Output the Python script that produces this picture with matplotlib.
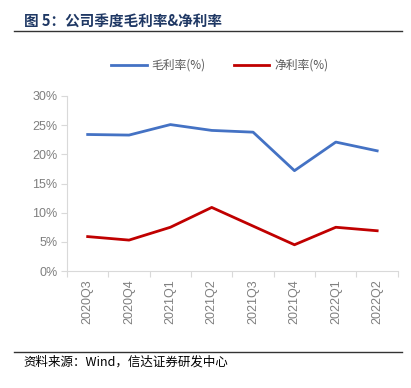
import matplotlib.pyplot as plt
from matplotlib.lines import Line2D

plt.rcParams['font.family'] = ['Noto Sans CJK SC', 'DejaVu Sans']

quarters = ["2020Q3", "2020Q4", "2021Q1", "2021Q2", "2021Q3", "2021Q4", "2022Q1", "2022Q2"]
gross_margin = [23.4, 23.3, 25.1, 24.1, 23.8, 17.2, 22.1, 20.6]
net_margin = [5.9, 5.3, 7.5, 10.9, 7.7, 4.5, 7.5, 6.9]

fig = plt.figure(figsize=(4.11, 3.88), dpi=100)
ax = fig.add_axes([0.163, 0.3015, 0.805, 0.4511])

x = list(range(len(quarters)))
ax.plot(x, gross_margin, color="#4472C4", lw=2.0, label="毛利率(%)")
ax.plot(x, net_margin, color="#C00000", lw=2.0, label="净利率(%)")

ax.set_xlim(-0.5, len(quarters) - 0.5)
ax.set_ylim(0, 30)
ax.set_yticks([0, 5, 10, 15, 20, 25, 30])
ax.set_yticklabels([f"{v}%" for v in [0, 5, 10, 15, 20, 25, 30]], color="#7f7f7f", fontsize=9,
                   family=['Liberation Sans', 'DejaVu Sans'])

# category boundary ticks (major), labels centred (minor)
ax.set_xticks([i - 0.5 for i in range(len(quarters) + 1)], minor=False)
ax.set_xticklabels([])
ax.set_xticks(x, minor=True)
ax.set_xticklabels(quarters, minor=True, rotation=90, color="#7f7f7f", fontsize=9,
                   family=['Liberation Sans', 'DejaVu Sans'])
ax.tick_params(axis="x", which="minor", length=0, pad=6)
ax.tick_params(axis="x", which="major", length=4, color="#d9d9d9")
ax.tick_params(axis="y", length=4, color="#d9d9d9", pad=3)

for s in ["top", "right"]:
    ax.spines[s].set_visible(False)
ax.spines["left"].set_color("#d9d9d9")
ax.spines["bottom"].set_color("#d9d9d9")

handles = [Line2D([], [], color="#4472C4", lw=2.0), Line2D([], [], color="#C00000", lw=2.0)]
fig.legend(handles, ["毛利率(%)", "净利率(%)"], loc="center", bbox_to_anchor=(0.535, 0.832),
           ncol=2, frameon=False, fontsize=8.5, handlelength=3.0, columnspacing=2.4,
           handletextpad=0.4, labelcolor="#595959")

fig.text(0.058, 0.943, "图 5：公司季度毛利率&净利率", fontsize=10.5, fontweight="bold",
         color="#1F3864", va="center", ha="left")
fig.add_artist(Line2D([0.034, 0.978], [0.92, 0.92], color="#333333", lw=1.0))
fig.add_artist(Line2D([0.034, 0.978], [0.093, 0.093], color="#333333", lw=1.0))
fig.text(0.058, 0.067, "资料来源：Wind，信达证券研发中心", fontsize=9, style="italic",
         color="#000000", va="center", ha="left")

fig.savefig("out.png", dpi=100)
